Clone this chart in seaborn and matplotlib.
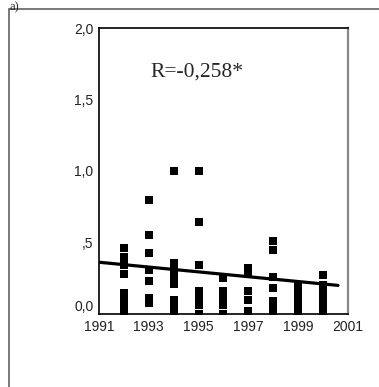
import matplotlib
matplotlib.use("Agg")
import matplotlib.pyplot as plt
import matplotlib.transforms as mtransforms
from matplotlib.lines import Line2D
import numpy as np
import pandas as pd
import seaborn as sns

# values read per year (stacked squares)
v1992 = [0.46, 0.40, 0.34, 0.28, 0.15, 0.10, 0.05, 0.0]
v1993 = [0.80, 0.55, 0.43, 0.31, 0.23, 0.11, 0.08]
v1994 = [1.0, 0.36, 0.31, 0.26, 0.21, 0.10, 0.05, 0.0]
v1995 = [1.0, 0.64, 0.34, 0.16, 0.11, 0.06, 0.0]
v1996 = [0.25, 0.16, 0.11, 0.06, 0.0]
v1997 = [0.32, 0.29, 0.16, 0.10, 0.02]
v1998 = [0.51, 0.45, 0.26, 0.18, 0.09, 0.04, 0.0]
v1999 = [0.20, 0.15, 0.10, 0.05, 0.0]
v2000 = [0.27, 0.20, 0.15, 0.10, 0.05, 0.0]

# fit line
line_x = [1991, 2000.6]
line_y = [0.362, 0.200]

x_ticks = [1991, 1993, 1995, 1997, 1999, 2001]
y_ticks = [0.0, 0.5, 1.0, 1.5, 2.0]
y_labels = ["0,0", ",5", "1,0", "1,5", "2,0"]
r_label = "R=-0,258*"

per_year = {1992: v1992, 1993: v1993, 1994: v1994, 1995: v1995, 1996: v1996,
            1997: v1997, 1998: v1998, 1999: v1999, 2000: v2000}
df = pd.DataFrame([(yr, v) for yr, vals in per_year.items() for v in vals],
                  columns=["year", "value"])

sns.set_style("white")
plt.rcParams["font.family"] = ["Liberation Sans", "DejaVu Sans"]

fig = plt.figure(figsize=(3.79, 3.87), dpi=100)
ax = fig.add_axes([99 / 379, 73 / 387, 249 / 379, 286 / 387])

sns.scatterplot(data=df, x="year", y="value", marker="s", s=36, color="black",
                linewidth=0, ax=ax, legend=False)
sns.lineplot(x=line_x, y=line_y, color="black", linewidth=2.3, ax=ax)

ax.set_xlim(1991, 2001)
ax.set_ylim(0, 2.0)
ax.set_xticks(x_ticks)
ax.set_xticklabels([str(t) for t in x_ticks])
ax.set_yticks(y_ticks)
ax.set_yticklabels(y_labels)
ax.set_xlabel("")
ax.set_ylabel("")
ax.tick_params(axis="both", direction="out", length=3, width=2, color="black",
               labelsize=10, pad=1, labelcolor="#222222")

# the 0,0 label sits a little higher so it clears 1991
lab0 = ax.get_yticklabels()[0]
lab0.set_transform(lab0.get_transform() + mtransforms.ScaledTranslation(0, 6 / 72, fig.dpi_scale_trans))

for side in ["left", "bottom", "top"]:
    ax.spines[side].set_color("black")
    ax.spines[side].set_linewidth(1.2)
ax.spines["right"].set_color("#888888")
ax.spines["right"].set_linewidth(1.6)

ax.text(0.205, 0.847, r_label, transform=ax.transAxes, ha="left", va="center",
        fontsize=15.5, family=["Liberation Serif", "DejaVu Serif"])

# outer frame and panel letter
fig.add_artist(Line2D([9 / 379, 9 / 379], [0, 1 - 9 / 387], transform=fig.transFigure,
                      color="#555555", linewidth=1.1))
fig.add_artist(Line2D([9 / 379, 1], [1 - 9 / 387, 1 - 9 / 387], transform=fig.transFigure,
                      color="#555555", linewidth=1.1))
fig.text(10 / 379, 1 - 1 / 387, "a)", ha="left", va="top", fontsize=9,
         family=["Liberation Serif", "DejaVu Serif"])

fig.savefig("out.png", dpi=100)
